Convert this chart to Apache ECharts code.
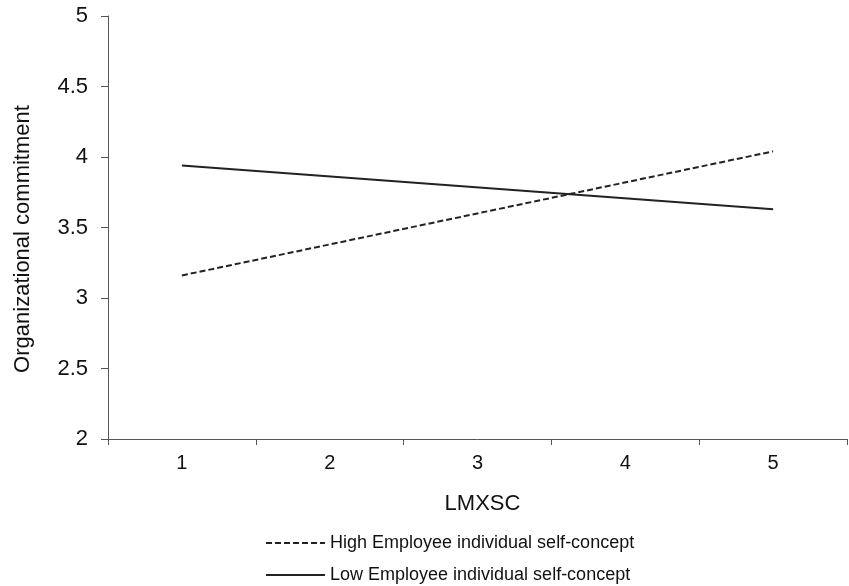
<!DOCTYPE html>
<html>
<head>
<meta charset="utf-8">
<script src="https://cdn.jsdelivr.net/npm/echarts@6/dist/echarts.min.js"></script>
<style>html,body{margin:0;padding:0;background:#fff;}#c{width:849px;height:586px;}</style>
</head>
<body>
<div id="c"></div>
<script>
const categories = ['1', '2', '3', '4', '5'];
const highSeries = [3.16, null, null, null, 4.04];
const lowSeries = [3.94, null, null, null, 3.63];
const seriesNames = ['High Employee individual self-concept', 'Low Employee individual self-concept'];
const yTicks = { min: 2, max: 5, interval: 0.5 };
const xTitle = 'LMXSC';
const yTitle = 'Organizational commitment';

const FONT = "'Liberation Sans', Arial, sans-serif";
const chart = echarts.init(document.getElementById('c'), null, { renderer: 'canvas' });
chart.setOption({
  backgroundColor: '#fff',
  animation: false,
  grid: { left: 108, right: 2, top: 16, bottom: 147, containLabel: false },
  xAxis: {
    type: 'category',
    data: categories,
    boundaryGap: true,
    name: xTitle,
    nameLocation: 'middle',
    nameGap: 54,
    nameTextStyle: { fontFamily: FONT, fontSize: 22, color: '#111', padding: [0, 0, 0, 10] },
    axisLine: { lineStyle: { color: '#555', width: 1 } },
    axisTick: { show: true, length: 6, inside: false, lineStyle: { color: '#555' } },
    axisLabel: { fontFamily: FONT, fontSize: 20, color: '#111', margin: 14 },
    splitLine: { show: false }
  },
  yAxis: {
    type: 'value',
    min: yTicks.min,
    max: yTicks.max,
    interval: yTicks.interval,
    axisLine: { show: true, lineStyle: { color: '#555', width: 1 } },
    axisTick: { show: true, length: 7, lineStyle: { color: '#555' } },
    axisLabel: { fontFamily: FONT, fontSize: 22, color: '#111', margin: 20 },
    splitLine: { show: false }
  },
  graphic: [{
    type: 'text',
    x: 23,
    y: 239,
    rotation: Math.PI / 2,
    style: {
      text: yTitle,
      fontFamily: FONT,
      fontSize: 22,
      fill: '#111',
      textAlign: 'center',
      textVerticalAlign: 'middle'
    }
  }],
  legend: {
    orient: 'vertical',
    left: 265,
    top: 534,
    height: 120,
    padding: 0,
    itemWidth: 59,
    itemHeight: 14,
    itemGap: 14,
    itemStyle: { opacity: 0 },
    textStyle: { fontFamily: FONT, fontSize: 18, color: '#111' },
    data: seriesNames
  },
  series: [
    {
      name: seriesNames[0],
      type: 'line',
      data: highSeries,
      connectNulls: true,
      symbol: 'none',
      lineStyle: { color: '#222', width: 2, type: [6, 3] },
      itemStyle: { color: '#222' }
    },
    {
      name: seriesNames[1],
      type: 'line',
      data: lowSeries,
      connectNulls: true,
      symbol: 'none',
      lineStyle: { color: '#222', width: 2, type: 'solid' },
      itemStyle: { color: '#222' }
    }
  ]
});
</script>
</body>
</html>
